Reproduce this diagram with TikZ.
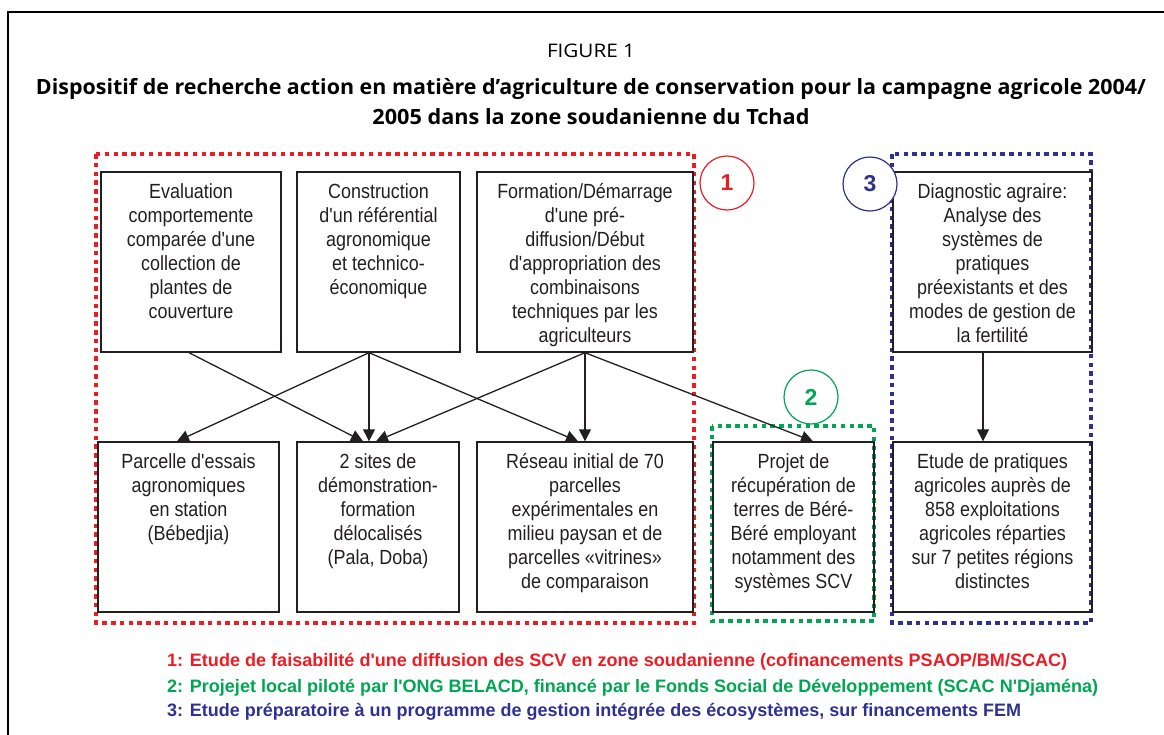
\documentclass[tikz,border=0pt]{standalone}
\usepackage{fontspec}
\setmainfont{Liberation Sans}
\newfontfamily\boxfont[FakeStretch=0.875,Ligatures=TeXOff]{Liberation Sans}
\newfontfamily\legfont[Ligatures=TeXOff]{Liberation Sans}
\newfontfamily\titlefont{Open Sans}
\usetikzlibrary{arrows.meta}
\definecolor{cred}{HTML}{ED1C24}
\definecolor{cgreen}{HTML}{00A651}
\definecolor{cblue}{HTML}{2E3192}
\definecolor{cline}{HTML}{231F20}
\newcommand\bxt[3]{\begin{minipage}[c][#2][t]{#1}\centering\boxfont\fontsize{20.5}{24}\selectfont\vspace*{9.5pt}\strut #3\end{minipage}}
\tikzset{
  box/.style={draw=cline, line width=1.4pt, inner sep=0pt, text=cline},
  arr/.style={draw=cline, line width=1.3pt, -{Triangle[length=12pt,width=12pt]}},
  dotbox/.style={line width=4pt, dash pattern=on 4.5pt off 4.3pt},
  circ/.style={circle, draw, line width=1.2pt, fill=white, minimum size=54pt, inner sep=0pt, font=\legfont\fontsize{23}{24}\selectfont\bfseries},
  legend/.style={anchor=base west, inner sep=0pt, font=\legfont\fontsize{18}{20}\selectfont\bfseries},
  title/.style={anchor=base, inner sep=0pt, text=black}
}
\begin{document}
\begin{tikzpicture}[x=1pt,y=-1pt]
\useasboundingbox (0,0) rectangle (1164,734);
% outer frame
\draw[line width=2pt, black] (8,740) -- (8,12) -- (1170,12);
% title
\node[title, font=\titlefont\fontsize{18.7}{20}\selectfont] (fig) at (591,57) {\resizebox{88pt}{\height}{FIGURE 1}};
\node[title, font=\titlefont\fontsize{21}{24}\selectfont\bfseries] (t1) at (591,94) {\resizebox{1110pt}{\height}{Dispositif de recherche action en matière d’agriculture de conservation pour la campagne agricole 2004/}};
\node[title, font=\titlefont\fontsize{21}{24}\selectfont\bfseries] (t2) at (591,124) {\resizebox{437pt}{\height}{2005 dans la zone soudanienne du Tchad}};
% dotted group frames
\draw[dotbox, cred] (96,154) rectangle (694,623);
\draw[dotbox, cgreen] (712,426) rectangle (874,621);
\draw[dotbox, cblue] (892,154) rectangle (1091,623);
% boxes
\node[box] (A) at (191,262) {\bxt{180pt}{180pt}{Evaluation\\comportemente\\comparée d'une\\collection de\\plantes de\\couverture}};
\node[box] (B) at (378.5,262) {\bxt{163pt}{180pt}{Construction\\d'un référential\\agronomique\\et technico-\\économique}};
\node[box] (C) at (585,262) {\bxt{216pt}{180pt}{Formation/Démarrage\\d'une pré-\\diffusion/Début\\d'appropriation des\\combinaisons\\techniques par les\\agriculteurs}};
\node[box] (H) at (992.5,262) {\bxt{199pt}{180pt}{Diagnostic agraire:\\Analyse des\\systèmes de\\pratiques\\préexistants et des\\modes de gestion de\\la fertilité}};
\node[box] (D) at (188.5,527) {\bxt{181pt}{170pt}{Parcelle d'essais\\agronomiques\\en station\\(Bébedjia)}};
\node[box] (E) at (378,527) {\bxt{162pt}{170pt}{2 sites de\\démonstration-\\formation\\délocalisés\\(Pala, Doba)}};
\node[box] (F) at (585,527) {\bxt{216pt}{170pt}{Réseau initial de 70\\parcelles\\expérimentales en\\milieu paysan et de\\parcelles «vitrines»\\de comparaison}};
\node[box] (G) at (793.5,527) {\bxt{161pt}{170pt}{Projet de\\récupération de\\terres de Béré-\\Béré employant\\notamment des\\systèmes SCV}};
\node[box] (I) at (992.5,527) {\bxt{199pt}{170pt}{Etude de pratiques\\agricoles auprès de\\858 exploitations\\agricoles réparties\\sur 7 petites régions\\distinctes}};
% connectors
\draw[arr] ([xshift=-2pt]A.south) -- ([xshift=-15pt]E.north);
\draw[arr] ([xshift=-9.5pt]B.south) -- ([xshift=-11.5pt]D.north);
\draw[arr] ([xshift=-9.5pt]B.south) -- ([xshift=-9pt]E.north);
\draw[arr] ([xshift=-9.5pt]B.south) -- ([xshift=-7pt]F.north);
\draw[arr] (C.south) -- ([xshift=-2pt]E.north);
\draw[arr] (C.south) -- (F.north);
\draw[arr] (C.south) -- ([xshift=19.5pt]G.north);
\draw[arr] ([xshift=-9.5pt]H.south) -- ([xshift=-9.5pt]I.north);
% numbered circles
\node[circ, draw=cred, text=cred] (n1) at (727,183) {1};
\node[circ, draw=cgreen, text=cgreen] (n2) at (811,397) {2};
\node[circ, draw=cblue, text=cblue] (n3) at (870,184) {3};
% legend
\node[legend, text=cred] (l1) at (167,666) {\resizebox{900pt}{\height}{1: Etude de faisabilité d'une diffusion des SCV en zone soudanienne (cofinancements PSAOP/BM/SCAC)}};
\node[legend, text=cgreen] (l2) at (167,692) {\resizebox{931pt}{\height}{2: Projejet local piloté par l'ONG BELACD, financé par le Fonds Social de Développement (SCAC N'Djaména)}};
\node[legend, text=cblue] (l3) at (167,716) {\resizebox{854pt}{\height}{3: Etude préparatoire à un programme de gestion intégrée des écosystèmes, sur financements FEM}};
\end{tikzpicture}
\end{document}
